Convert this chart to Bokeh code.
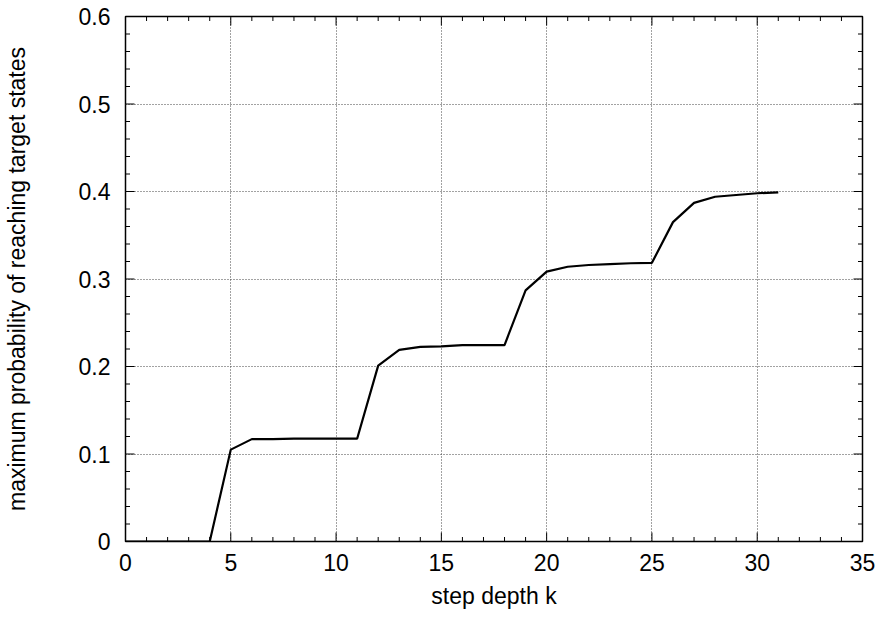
import math
from bokeh.plotting import figure
from bokeh.models import Range1d, FixedTicker
from bokeh.embed import file_html
from bokeh.resources import INLINE

step_k = list(range(32))
max_prob = [0, 0, 0, 0, 0, 0.105, 0.117, 0.117, 0.1175, 0.1175, 0.1175, 0.1175,
            0.201, 0.219, 0.2225, 0.223, 0.2245, 0.2245, 0.2245, 0.287, 0.3085,
            0.314, 0.316, 0.317, 0.318, 0.3185, 0.365, 0.387, 0.394, 0.396,
            0.398, 0.399]

x_ticks = [0, 5, 10, 15, 20, 25, 30, 35]
x_tick_labels = ["0", "5", "10", "15", "20", "25", "30", "35"]
y_ticks = [0, 0.1, 0.2, 0.3, 0.4, 0.5, 0.6]
y_tick_labels = ["0", "0.1", "0.2", "0.3", "0.4", "0.5", "0.6"]
x_minor = list(range(0, 36))
y_minor = [round(i * 0.02, 2) for i in range(31)]

x_label = "step depth k"
y_label = "maximum probability of reaching target states"

X0, X1 = 0, 35
Y0, Y1 = 0, 0.6

p = figure(width=882, height=621, output_backend="svg", toolbar_location=None,
           x_range=Range1d(X0, X1), y_range=Range1d(Y0, Y1),
           min_border_left=124, min_border_right=20, min_border_top=16,
           min_border_bottom=80, x_axis_label=x_label, y_axis_label=y_label)

font = "Liberation Sans"
p.xaxis.ticker = FixedTicker(ticks=x_ticks, minor_ticks=x_minor)
p.yaxis.ticker = FixedTicker(ticks=y_ticks, minor_ticks=y_minor)
p.xaxis.major_label_overrides = dict(zip(x_ticks, x_tick_labels))
p.yaxis.major_label_overrides = dict(zip(y_ticks, y_tick_labels))

for ax in [p.xaxis[0], p.yaxis[0]]:
    ax.axis_line_color = None
    ax.major_tick_in = 0
    ax.major_tick_out = 0
    ax.minor_tick_in = 0
    ax.minor_tick_out = 0
    ax.major_label_text_font = font
    ax.major_label_text_font_size = "23px"
    ax.major_label_text_color = "black"
    ax.axis_label_text_font = font
    ax.axis_label_text_font_size = "23px"
    ax.axis_label_text_font_style = "normal"
    ax.axis_label_text_color = "black"

p.xaxis.major_label_standoff = 12
p.xaxis.axis_label_standoff = 9
p.yaxis.major_label_standoff = 15
p.yaxis.axis_label_standoff = 46

p.xgrid.ticker = FixedTicker(ticks=x_ticks)
p.ygrid.ticker = FixedTicker(ticks=y_ticks)
p.xgrid.grid_line_color = "#444444"
p.ygrid.grid_line_color = "#444444"
p.xgrid.grid_line_dash = "1 2"
p.ygrid.grid_line_dash = "1 2"

# inward tick marks on all four sides (centred on frame edges, clipped by frame)
xmaj = [t for t in x_ticks]
xmin = [t for t in x_minor if t not in x_ticks]
ymaj = [t for t in y_ticks]
ymin = [t for t in y_minor if all(abs(t - m) > 1e-9 for m in y_ticks)]

for edge in (Y0, Y1):
    p.scatter(xmaj, [edge] * len(xmaj), marker="dash", size=18, angle=math.pi / 2,
              line_color="black", line_width=1)
    p.scatter(xmin, [edge] * len(xmin), marker="dash", size=9, angle=math.pi / 2,
              line_color="black", line_width=1)
for edge in (X0, X1):
    p.scatter([edge] * len(ymaj), ymaj, marker="dash", size=18,
              line_color="black", line_width=1)
    p.scatter([edge] * len(ymin), ymin, marker="dash", size=9,
              line_color="black", line_width=1)

p.line(step_k, max_prob, line_color="black", line_width=2.2)

p.outline_line_color = "black"
p.outline_line_width = 1.5
p.background_fill_color = "white"
p.border_fill_color = "white"

open("out.html", "w").write(file_html(p, INLINE))
